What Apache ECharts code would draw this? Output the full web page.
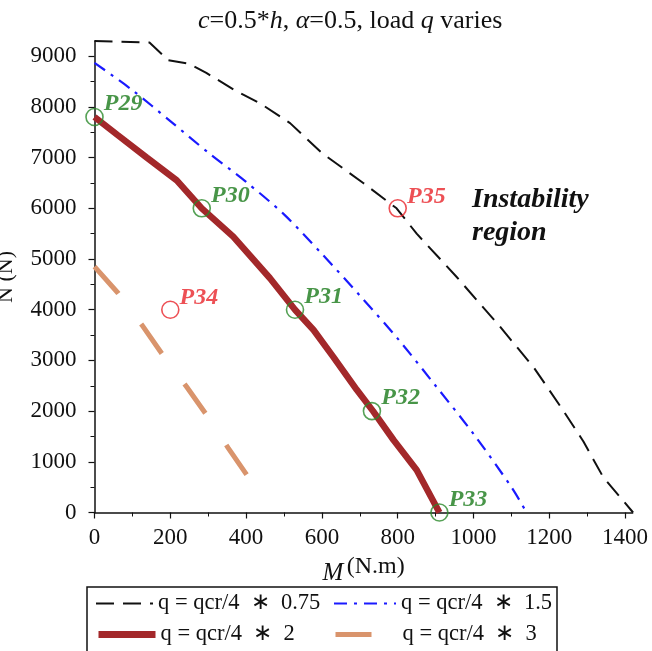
<!DOCTYPE html>
<html>
<head>
<meta charset="utf-8">
<script src="https://cdn.jsdelivr.net/npm/echarts@6/dist/echarts.min.js"></script>
<style>html,body{margin:0;padding:0;background:#fff}#c{width:652px;height:651px}</style>
</head>
<body>
<div id="c"></div>
<script>
// q = qcr/4 * 0.75 (black dashed)
const m075 = [0, 145, 195, 250, 295, 370, 437, 516, 600, 709, 797, 850, 955, 1070, 1160, 1236, 1290, 1342, 1421];
const n075 = [9300, 9270, 8920, 8850, 8670, 8330, 8070, 7680, 7090, 6500, 6000, 5500, 4650, 3665, 2850, 2020, 1400, 700, 0];
// q = qcr/4 * 1.5 (blue dash-dot)
const m15 = [0, 100, 200, 300, 400, 500, 600, 700, 800, 900, 1000, 1100, 1140];
const n15 = [8870, 8330, 7720, 7100, 6520, 5880, 5100, 4280, 3430, 2500, 1550, 500, 0];
// q = qcr/4 * 2 (thick red)
const m2 = [0, 60, 138, 217, 283, 366, 463, 529, 578, 630, 692, 735, 789, 850, 910];
const n2 = [7800, 7450, 7000, 6550, 6000, 5440, 4620, 4000, 3600, 3070, 2420, 2000, 1430, 840, 0];
// q = qcr/4 * 3 (orange dashed)
const m3 = [0, 62, 125, 181, 243, 296, 353, 411];
const n3 = [4850, 4330, 3700, 3100, 2480, 1920, 1270, 640];
// labelled points
const stableNames = ['P29', 'P30', 'P31', 'P32', 'P33'];
const stableM = [0, 283, 529, 732, 910];
const stableN = [7800, 6000, 4000, 2000, 0];
const unstableNames = ['P34', 'P35'];
const unstableM = [200, 800];
const unstableN = [4000, 6000];
// ticks
const xTicks = [0, 200, 400, 600, 800, 1000, 1200, 1400];
const yTicks = [0, 1000, 2000, 3000, 4000, 5000, 6000, 7000, 8000, 9000];
const legendNames = ['q = qcr/4  \u2217  0.75', 'q = qcr/4  \u2217  1.5', 'q = qcr/4  \u2217  2', 'q = qcr/4  \u2217  3'];

const zip = (a, b) => a.map((v, i) => [v, b[i]]);
const FONT = '"Liberation Serif", "Times New Roman", serif';

const chart = echarts.init(document.getElementById('c'), null, {renderer: 'canvas'});

const legendBase = {
  orient: 'horizontal', padding: 0, itemHeight: 14, itemGap: 0,
  itemStyle: {opacity: 0},
  textStyle: {fontFamily: FONT, fontSize: 22.5, color: '#111'},
  selectedMode: false
};

chart.setOption({
  animation: false,
  backgroundColor: '#fff',
  title: {
    text: '{i|c}=0.5*{i|h}, {i|\u03b1}=0.5, load {i|q} varies',
    left: 193, top: 3,
    textStyle: {
      fontFamily: FONT, fontSize: 26, fontWeight: 'normal', color: '#111',
      rich: {i: {fontFamily: FONT, fontSize: 26, fontStyle: 'italic', color: '#111'}}
    }
  },
  grid: {left: 94.5, right: 19.3, top: 41, bottom: 138.5, containLabel: false},
  xAxis: {
    type: 'value', min: 0, max: 1420, interval: 200,
    name: '{m|M} {u|(N.m)}', nameLocation: 'middle', nameGap: 36,
    nameTextStyle: {
      rich: {
        m: {fontFamily: FONT, fontSize: 25, fontStyle: 'italic', color: '#111', padding: [8, 0, 0, 0]},
        u: {fontFamily: FONT, fontSize: 24, color: '#111', padding: [0, 0, 6, 0]}
      }
    },
    axisLine: {lineStyle: {color: '#111', width: 1.5}},
    axisTick: {length: 6, lineStyle: {color: '#111', width: 1.2}, customValues: xTicks},
    minorTick: {show: true, splitNumber: 2, length: 4, lineStyle: {color: '#111', width: 1}},
    axisLabel: {fontFamily: FONT, fontSize: 23, color: '#111', margin: 14, customValues: xTicks,
      formatter: v => String(v)},
    splitLine: {show: false}
  },
  yAxis: {
    type: 'value', min: 0, max: 9300, interval: 1000,
    axisLine: {show: true, lineStyle: {color: '#111', width: 1.5}},
    axisTick: {show: true, length: 6, lineStyle: {color: '#111', width: 1.2}, customValues: yTicks},
    minorTick: {show: true, splitNumber: 2, length: 4, lineStyle: {color: '#111', width: 1}},
    axisLabel: {fontFamily: FONT, fontSize: 23, color: '#111', margin: 18, customValues: yTicks,
      formatter: v => String(v)},
    splitLine: {show: false}
  },
  legend: [
    Object.assign({}, legendBase, {data: [legendNames[0]], left: 95, top: 592, itemWidth: 57}),
    Object.assign({}, legendBase, {data: [legendNames[1]], left: 333, top: 592, itemWidth: 62}),
    Object.assign({}, legendBase, {data: [legendNames[2]], left: 95, top: 623, itemWidth: 57, lineStyle: {width: 7}}),
    Object.assign({}, legendBase, {data: [legendNames[3]], left: 333, top: 623, itemWidth: 62, lineStyle: {width: 5}})
  ],
  graphic: [
    {type: 'rect', shape: {x: 87, y: 587, width: 470, height: 68}, style: {fill: 'none', stroke: '#111', lineWidth: 1.5}, z: 0, silent: true},
    {type: 'text', left: 472, top: 183, style: {text: 'Instability\nregion', font: 'italic bold 28px ' + FONT, fill: '#111', lineHeight: 33}},
    {type: 'text', x: 6, y: 277, rotation: Math.PI / 2, style: {text: 'N (N)', font: '22px ' + FONT, fill: '#111', align: 'center', verticalAlign: 'middle'}}
  ],
  series: [
    {
      name: legendNames[0], type: 'line', data: zip(m075, n075), showSymbol: false, symbol: 'none',
      lineStyle: {color: '#111', width: 2, type: [18, 9]}, itemStyle: {color: '#111'}, z: 2
    },
    {
      name: legendNames[1], type: 'line', data: zip(m15, n15), showSymbol: false, symbol: 'none', smooth: 0.3,
      lineStyle: {color: '#1a1aff', width: 2.2, type: [13, 7, 3, 7]}, itemStyle: {color: '#1a1aff'}, z: 2
    },
    {
      name: legendNames[2], type: 'line', data: zip(m2, n2), showSymbol: false, symbol: 'none',
      lineStyle: {color: '#a3282a', width: 6.5}, itemStyle: {color: '#a3282a'}, z: 3
    },
    {
      name: legendNames[3], type: 'line', data: zip(m3, n3), showSymbol: false, symbol: 'none',
      lineStyle: {color: '#d9946c', width: 5, type: [36, 38]}, itemStyle: {color: '#d9946c'}, z: 2
    },
    {
      name: 'stable', type: 'scatter', z: 5,
      data: stableNames.map((n, i) => ({name: n, value: [stableM[i], stableN[i]]})),
      symbol: 'circle', symbolSize: 17,
      itemStyle: {color: 'rgba(0,0,0,0)', borderColor: '#2a8a2a', borderWidth: 1.6},
      label: {show: true, position: 'right', distance: 0, offset: [0, -13], formatter: '{b}',
        fontFamily: FONT, fontSize: 24, fontStyle: 'italic', fontWeight: 'bold', color: '#1a7a1a'}
    },
    {
      name: 'unstable', type: 'scatter', z: 5,
      data: unstableNames.map((n, i) => ({name: n, value: [unstableM[i], unstableN[i]]})),
      symbol: 'circle', symbolSize: 17,
      itemStyle: {color: 'rgba(0,0,0,0)', borderColor: '#e8242a', borderWidth: 1.6},
      label: {show: true, position: 'right', distance: 0, offset: [0, -12], formatter: '{b}',
        fontFamily: FONT, fontSize: 24, fontStyle: 'italic', fontWeight: 'bold', color: '#e8242a'}
    }
  ]
});
</script>
</body>
</html>
